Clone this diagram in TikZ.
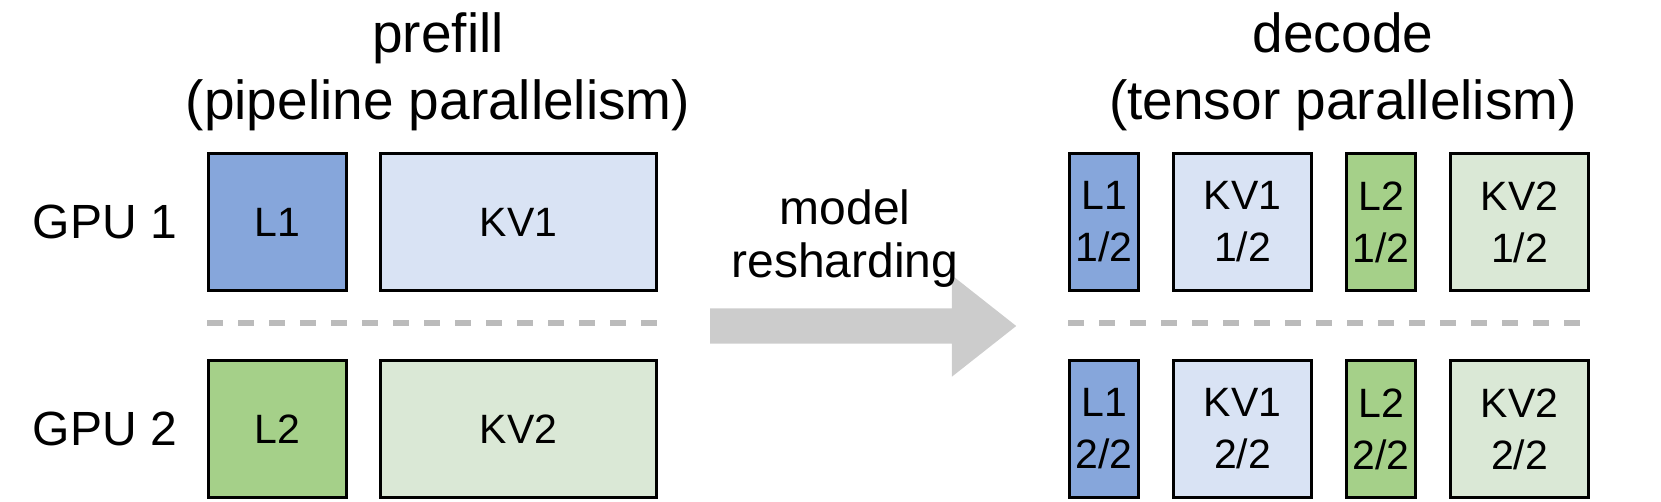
\documentclass[tikz,border=0pt]{standalone}
\usepackage{fontspec}
\setmainfont{Liberation Sans}
\usepackage{tikz}
\usetikzlibrary{positioning, shapes.arrows}
\definecolor{layerblue}{HTML}{86A6DB}
\definecolor{cacheblue}{HTML}{D9E3F4}
\definecolor{layergreen}{HTML}{A5D089}
\definecolor{cachegreen}{HTML}{DAE8D6}
\definecolor{arrowgray}{HTML}{CCCCCC}
\definecolor{sepgray}{HTML}{BBBBBB}
\tikzstyle{block} = [rectangle, draw=black, line width=3pt, minimum height=137pt, inner sep=0pt, align=center, font=\fontsize{41}{52}\selectfont]
\tikzstyle{layA} = [block, fill=layerblue]
\tikzstyle{kvA} = [block, fill=cacheblue]
\tikzstyle{layB} = [block, fill=layergreen]
\tikzstyle{kvB} = [block, fill=cachegreen]
\tikzstyle{stagetitle} = [align=center, inner sep=0pt, font=\fontsize{55}{67}\selectfont]
\tikzstyle{gpu} = [inner sep=0pt, font=\fontsize{48}{58}\selectfont]
\tikzstyle{reshardtext} = [align=center, inner sep=0pt, font=\fontsize{48}{53}\selectfont]
\tikzstyle{bigarrow} = [single arrow, fill=arrowgray, draw=none, inner xsep=0pt, inner ysep=17.5pt, minimum height=306pt, single arrow head extend=33pt, single arrow tip angle=76.5, single arrow head indent=0pt]
\tikzstyle{sep} = [sepgray, line width=6pt, dash pattern=on 15.5pt off 15.5pt]

\begin{document}
\begin{tikzpicture}[x=1pt, y=-1pt, node distance=32pt]
	\useasboundingbox (0,0) rectangle (1661,502);
	% prefill
	\node (preTitle) [stagetitle] at (438,72) {prefill\\(pipeline parallelism)};
	\node (preL1) [layA, minimum width=138pt] at (277.5,222) {L1};
	\node (preKV1) [kvA, minimum width=276pt, right=31pt of preL1] {KV1};
	\node (preL2) [layB, minimum width=138pt, below=67pt of preL1] {L2};
	\node (preKV2) [kvB, minimum width=276pt, right=31pt of preL2] {KV2};
	\node (gpu1) [gpu, left=30pt of preL1] {GPU 1};
	\node (gpu2) [gpu, left=30pt of preL2] {GPU 2};
	\draw [sep] (207,323) -- (657,323);
	% reshard
	\node (reshard) [bigarrow, anchor=tail] at (710,326) {};
	\node (reshardLabel) [reshardtext] at (845,239) {model\\resharding};
	% decode
	\node (decTitle) [stagetitle] at (1343,72) {decode\\(tensor parallelism)};
	\node (decL1a) [layA, minimum width=69pt] at (1104,222) {L1\\1/2};
	\node (decKV1a) [kvA, minimum width=138pt, right=of decL1a] {KV1\\1/2};
	\node (decL2a) [layB, minimum width=69pt, right=of decKV1a] {L2\\1/2};
	\node (decKV2a) [kvB, minimum width=138pt, right=of decL2a] {KV2\\1/2};
	\node (decL1b) [layA, minimum width=69pt, below=67pt of decL1a] {L1\\2/2};
	\node (decKV1b) [kvA, minimum width=138pt, right=of decL1b] {KV1\\2/2};
	\node (decL2b) [layB, minimum width=69pt, right=of decKV1b] {L2\\2/2};
	\node (decKV2b) [kvB, minimum width=138pt, right=of decL2b] {KV2\\2/2};
	\draw [sep] (1068,323) -- (1588,323);
\end{tikzpicture}
\end{document}
